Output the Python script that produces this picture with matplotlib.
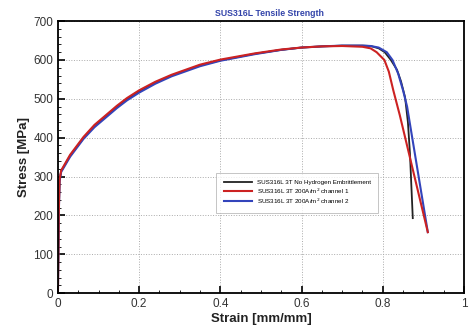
import matplotlib
matplotlib.use("Agg")
import matplotlib.pyplot as plt
from matplotlib.ticker import MultipleLocator

plt.rcParams["font.family"] = ["Liberation Sans", "DejaVu Sans"]

# values
black_strain = [0, 0.002, 0.004, 0.008, 0.012, 0.03, 0.063, 0.09, 0.117, 0.145, 0.17, 0.2, 0.24, 0.28,
                0.35, 0.4, 0.485, 0.55, 0.6, 0.65, 0.7, 0.75, 0.77, 0.79, 0.805, 0.82, 0.835,
                0.845, 0.855, 0.862, 0.867, 0.874]
black_stress = [0, 200, 290, 314, 321, 354, 399, 430, 454, 479, 499, 519, 542, 560,
                586, 599, 616, 626, 632, 635, 637, 637, 636, 630, 620, 600, 575,
                545, 504, 440, 360, 193]

red_strain = [0, 0.002, 0.004, 0.008, 0.012, 0.03, 0.063, 0.09, 0.117, 0.145, 0.17, 0.2, 0.24, 0.28,
              0.35, 0.4, 0.485, 0.55, 0.6, 0.65, 0.7, 0.75, 0.77, 0.785, 0.804, 0.815, 0.826,
              0.842, 0.911]
red_stress = [0, 202, 292, 316, 323, 356, 402, 433, 457, 482, 502, 522, 544, 562,
              588, 601, 617, 627, 632, 635, 636, 634, 630, 620, 600, 570, 522,
              458, 157]

blue_strain = [0, 0.002, 0.004, 0.008, 0.012, 0.03, 0.063, 0.09, 0.117, 0.145, 0.17, 0.2, 0.24, 0.28,
               0.35, 0.4, 0.485, 0.55, 0.6, 0.65, 0.7, 0.75, 0.77, 0.79, 0.81, 0.824, 0.838,
               0.85, 0.86, 0.911]
blue_stress = [0, 198, 288, 312, 319, 351, 397, 427, 451, 476, 496, 516, 539, 558,
               584, 598, 615, 626, 632, 635, 637, 637, 636, 632, 620, 600, 565,
               522, 480, 157]

labels = ["SUS316L 3T No Hydrogen Embrittlement",
          "SUS316L 3T 200A/m$^2$ channel 1",
          "SUS316L 3T 200A/m$^2$ channel 2"]

fig = plt.figure(figsize=(4.71, 3.25), dpi=100)
ax = fig.add_axes([0.123, 0.098, 0.862, 0.837])

ax.plot(black_strain, black_stress, color="#222222", lw=1.3, label=labels[0])
ax.plot(blue_strain, blue_stress, color="#3344bb", lw=1.5, label=labels[2])
ax.plot(red_strain, red_stress, color="#cc2222", lw=1.5, label=labels[1])

ax.set_xlim(0, 1)
ax.set_ylim(0, 700)
ax.xaxis.set_major_locator(MultipleLocator(0.2))
ax.xaxis.set_minor_locator(MultipleLocator(0.05))
ax.yaxis.set_major_locator(MultipleLocator(100))
ax.yaxis.set_minor_locator(MultipleLocator(20))
ax.tick_params(which="major", direction="in", length=5, width=1.2, labelsize=8.5, labelcolor="#333333")
ax.tick_params(which="minor", direction="in", length=2.5, width=0.6)
ax.set_xticks([0, 0.2, 0.4, 0.6, 0.8, 1])
ax.set_xticklabels(["0", "0.2", "0.4", "0.6", "0.8", "1"])
ax.grid(True, which="major", linestyle=":", color="#aaaaaa", lw=0.7)
for s in ax.spines.values():
    s.set_linewidth(1.3)

ax.set_xlabel("Strain [mm/mm]", fontsize=9.5, fontweight="bold", color="#222222", labelpad=2)
ax.set_ylabel("Stress [MPa]", fontsize=9.5, fontweight="bold", color="#222222", labelpad=2)
ax.set_title("SUS316L Tensile Strength", fontsize=6.3, fontweight="bold", color="#3344aa",
             x=0.522, pad=4)

h, l = ax.get_legend_handles_labels()
order = [0, 2, 1]
leg = ax.legend([h[i] for i in order], [l[i] for i in order], loc="upper left",
                bbox_to_anchor=(0.382, 0.455), fontsize=4.5, frameon=True, fancybox=False,
                edgecolor="#aaaaaa", handlelength=4.5, borderpad=1.2, labelspacing=0.15)
leg.get_frame().set_linewidth(0.6)

fig.savefig("out.png", dpi=100)
